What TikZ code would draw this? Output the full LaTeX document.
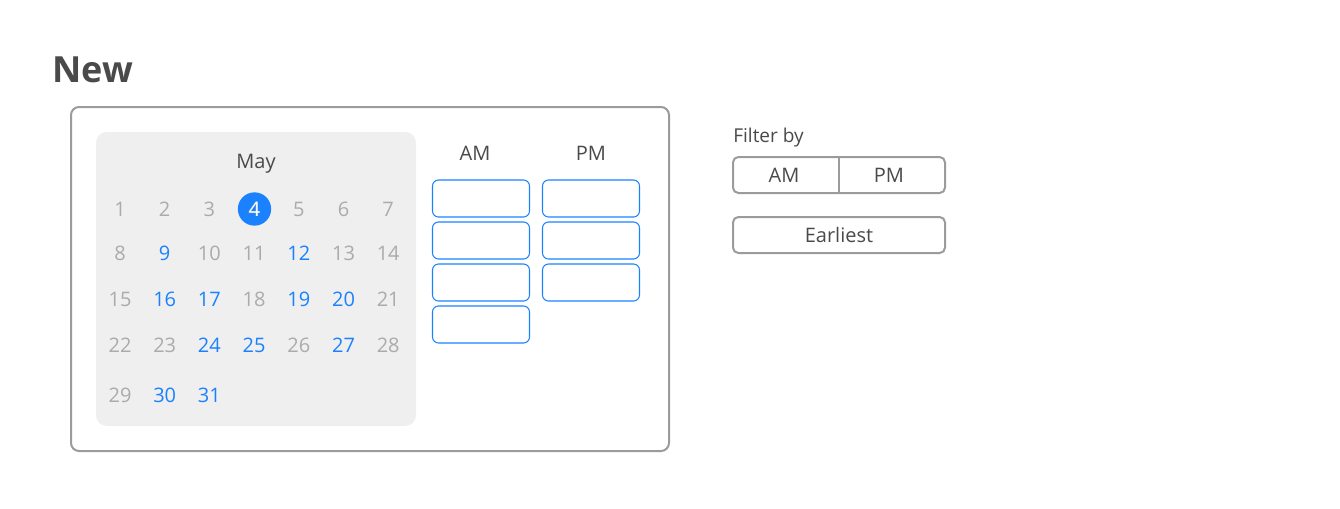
\documentclass[tikz,border=0pt]{standalone}
\usepackage{fontspec}
\setmainfont{Open Sans}
\definecolor{ink}{HTML}{4A4A4A}
\definecolor{dim}{HTML}{ABABAB}
\definecolor{pick}{HTML}{1A82FF}
\definecolor{edge}{HTML}{9B9B9B}
\definecolor{pad}{HTML}{EFEFEF}
\tikzset{
  day/.style={text=dim, font=\fontsize{15}{18}\selectfont, inner sep=0pt},
  open/.style={day, text=pick},
  slot/.style={draw=pick, line width=0.8pt, rounded corners=4.5pt},
  btn/.style={draw=edge, line width=1.5pt, rounded corners=4pt, inner sep=0pt,
    minimum width=159pt, minimum height=27pt, text=ink, font=\fontsize{15}{18}\selectfont}
}
\begin{document}
\begin{tikzpicture}[x=0.75pt, y=-0.75pt]
    \useasboundingbox (0,0) rectangle (1340,508);

    \node [anchor=base west, inner sep=0pt, text=ink, font=\fontsize{27}{32}\selectfont\bfseries] (title) at (52,82) {New};

    % card + calendar pad
    \draw [edge, line width=1.5pt, rounded corners=6pt] (71,107) rectangle (669,451);
    \fill [pad, rounded corners=8pt] (96,132) rectangle (416,426);
    \node [anchor=base, inner sep=0pt, text=ink, font=\fontsize{15}{18}\selectfont] (month) at (256,168) {May};

    % days
    \node [circle, fill=pick, minimum size=25pt, inner sep=0pt] (sel) at (254.5,209) {};
    \foreach \n/\s [count=\i] in {1/day,2/day,3/day,4/day,5/day,6/day,7/day}
        \node [\s] (d\n) at ({120+44.7*(\i-1)},209) {\n};
    \node [day, text=white] (d4) at (sel) {4};
    \foreach \n/\s [count=\i] in {8/day,9/open,10/day,11/day,12/open,13/day,14/day}
        \node [\s] (d\n) at ({120+44.7*(\i-1)},253) {\n};
    \foreach \n/\s [count=\i] in {15/day,16/open,17/open,18/day,19/open,20/open,21/day}
        \node [\s] (d\n) at ({120+44.7*(\i-1)},299) {\n};
    \foreach \n/\s [count=\i] in {22/day,23/day,24/open,25/open,26/day,27/open,28/day}
        \node [\s] (d\n) at ({120+44.7*(\i-1)},345) {\n};
    \foreach \n/\s [count=\i] in {29/day,30/open,31/open}
        \node [\s] (d\n) at ({120+44.7*(\i-1)},395) {\n};

    % time slots
    \node [text=ink, inner sep=0pt, font=\fontsize{15}{18}\selectfont] (amhead) at (475,153) {AM};
    \node [text=ink, inner sep=0pt, font=\fontsize{15}{18}\selectfont] (pmhead) at (591,153) {PM};
    \foreach \y in {180,222,264,306}
        \draw [slot] (432.5,\y) rectangle (529.5,\y+37);
    \foreach \y in {180,222,264}
        \draw [slot] (542.5,\y) rectangle (639.5,\y+37);

    % filters
    \node [anchor=base west, inner sep=0pt, text=ink, font=\fontsize{14.3}{17}\selectfont] (filter) at (733,142) {Filter by};
    \node [btn] (toggle) at (839,175) {};
    \draw [edge, line width=1.5pt] (toggle.north) -- (toggle.south);
    \node [text=ink, font=\fontsize{15}{18}\selectfont] (am) at (784,175) {AM};
    \node [text=ink, font=\fontsize{15}{18}\selectfont] (pm) at (889,175) {PM};
    \node [btn] (earliest) at (839,235) {Earliest};
\end{tikzpicture}
\end{document}
